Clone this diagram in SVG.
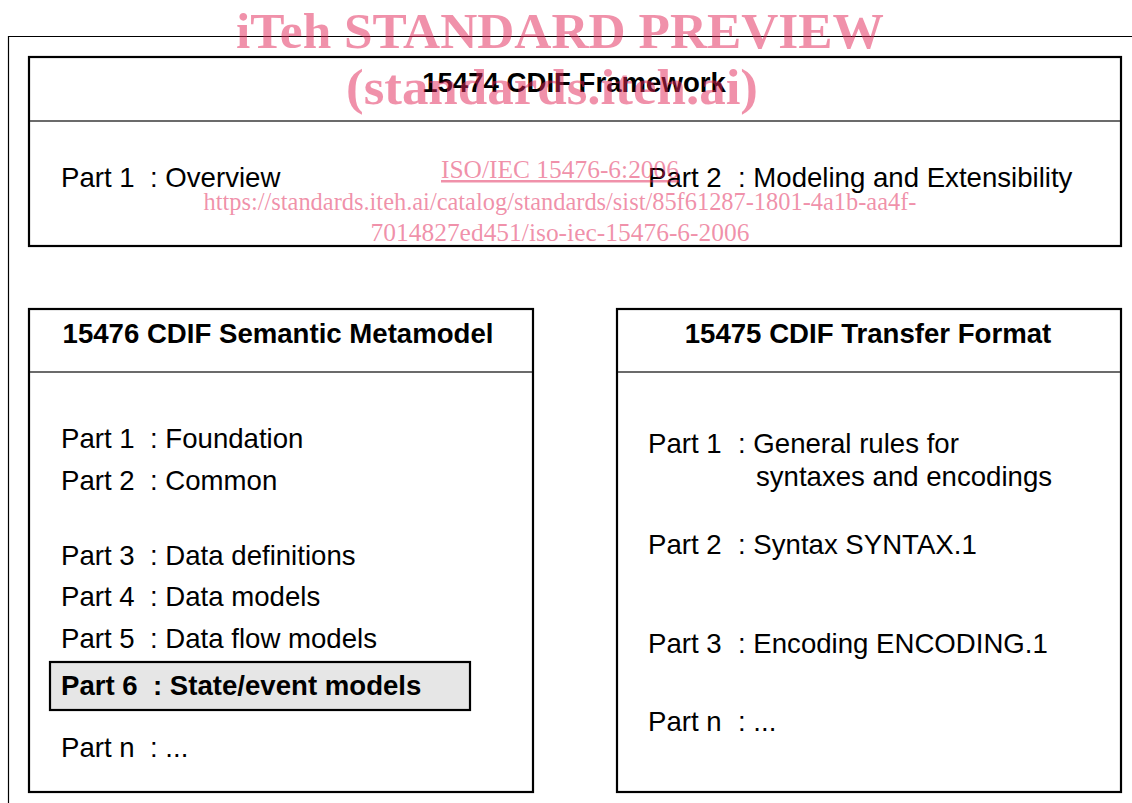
<svg xmlns="http://www.w3.org/2000/svg" width="1132" height="803" viewBox="0 0 1132 803">
<style>
.box{fill:#fff;stroke:#000;stroke-width:2.2}
.div{stroke:#3a3a3a;stroke-width:1.4}
.t{font-family:"Liberation Sans",Arial,sans-serif;font-size:27.6px;fill:#000}
.h{font-family:"Liberation Sans",Arial,sans-serif;font-size:27.6px;font-weight:bold;fill:#000;text-anchor:middle}
.b{font-weight:bold}
.wm{font-family:"Liberation Serif","Times New Roman",serif;fill:#e12355;fill-opacity:0.5;text-anchor:middle}
</style>
<rect width="1132" height="803" fill="#fff"/>
<g id="frame">
<path d="M8.5,803 V36.5 H1132" fill="none" stroke="#000" stroke-width="1.2"/>
</g>
<g id="framework">
<rect class="box" x="29" y="57" width="1092" height="189"/>
<line class="div" x1="30" y1="121" x2="1120" y2="121"/>
<text class="h" x="574" y="92">15474 CDIF Framework</text>
<text class="t" x="61" y="187">Part 1</text><text class="t" x="150" y="187">: Overview</text>
<text class="t" x="648" y="187">Part 2</text><text class="t" x="738" y="187">: Modeling and Extensibility</text>
</g>
<g id="semantic">
<rect class="box" x="29" y="309" width="504" height="483"/>
<line class="div" x1="30" y1="372" x2="532" y2="372"/>
<text class="h" x="278" y="343">15476 CDIF Semantic Metamodel</text>
<text class="t" x="61" y="448">Part 1</text><text class="t" x="150" y="448">: Foundation</text>
<text class="t" x="61" y="490">Part 2</text><text class="t" x="150" y="490">: Common</text>
<text class="t" x="61" y="565">Part 3</text><text class="t" x="150" y="565">: Data definitions</text>
<text class="t" x="61" y="606">Part 4</text><text class="t" x="150" y="606">: Data models</text>
<text class="t" x="61" y="648">Part 5</text><text class="t" x="150" y="648">: Data flow models</text>
<g id="part6">
<rect x="50" y="662" width="420" height="48" fill="#e6e6e6" stroke="#000" stroke-width="2.2"/>
<text class="t b" x="61" y="695">Part 6</text><text class="t b" x="153" y="695">: State/event models</text>
</g>
<text class="t" x="61" y="757">Part n</text><text class="t" x="150" y="757">: ...</text>
</g>
<g id="transfer">
<rect class="box" x="617" y="309" width="504" height="483"/>
<line class="div" x1="618" y1="372" x2="1120" y2="372"/>
<text class="h" x="868" y="343">15475 CDIF Transfer Format</text>
<text class="t" x="648" y="453">Part 1</text><text class="t" x="738" y="453">: General rules for</text>
<text class="t" x="756" y="486">syntaxes and encodings</text>
<text class="t" x="648" y="554">Part 2</text><text class="t" x="738" y="554">: Syntax SYNTAX.1</text>
<text class="t" x="648" y="653">Part 3</text><text class="t" x="738" y="653">: Encoding ENCODING.1</text>
<text class="t" x="648" y="731">Part n</text><text class="t" x="738" y="731">: ...</text>
</g>
<g id="connectors"></g>
<g id="watermark">
<text class="wm" x="560" y="48" font-size="50" font-weight="bold" textLength="648" lengthAdjust="spacingAndGlyphs">iTeh STANDARD PREVIEW</text>
<text class="wm" x="552" y="104" font-size="50" font-weight="bold" textLength="412" lengthAdjust="spacingAndGlyphs">(standards.iteh.ai)</text>
<text class="wm" x="560" y="178" font-size="25" text-decoration="underline" textLength="238" lengthAdjust="spacingAndGlyphs">ISO/IEC 15476-6:2006</text>
<text class="wm" x="560" y="210" font-size="25" textLength="713" lengthAdjust="spacingAndGlyphs">https://standards.iteh.ai/catalog/standards/sist/85f61287-1801-4a1b-aa4f-</text>
<text class="wm" x="560" y="241" font-size="25" textLength="379" lengthAdjust="spacingAndGlyphs">7014827ed451/iso-iec-15476-6-2006</text>
</g>
</svg>
